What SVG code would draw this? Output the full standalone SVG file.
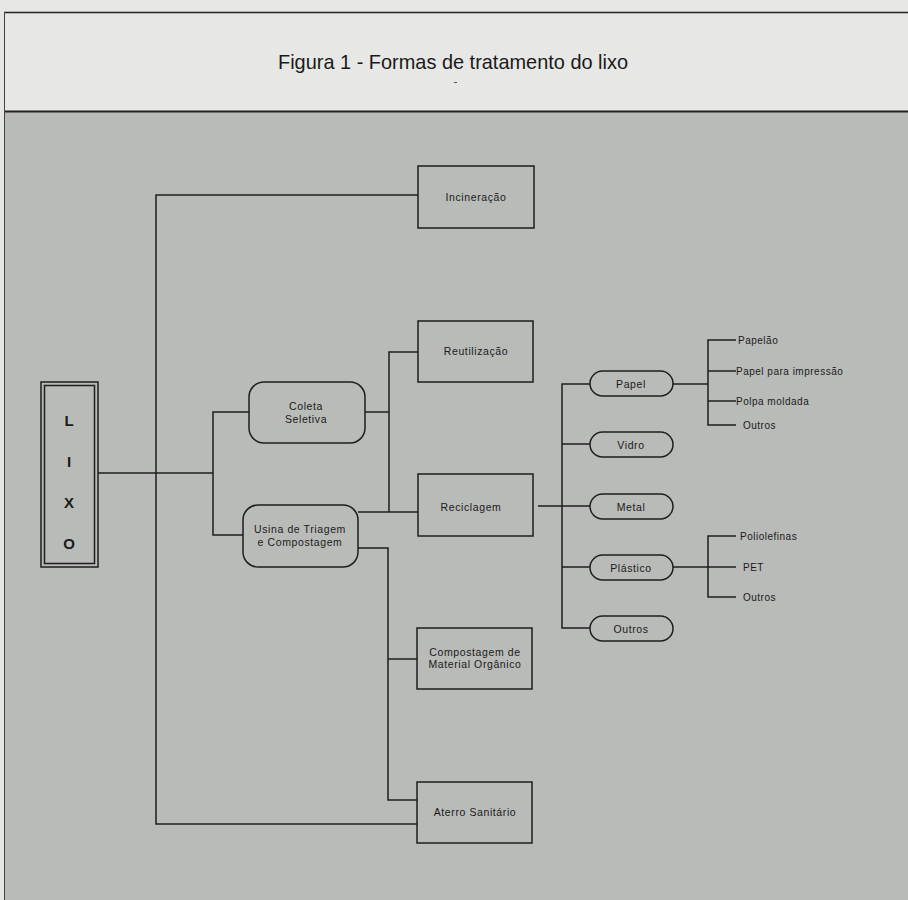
<svg xmlns="http://www.w3.org/2000/svg" width="908" height="900" viewBox="0 0 908 900">
<style>
.ln{fill:none;stroke:#1e1e1e;stroke-width:1.5}
.box{fill:#b9bbb8;stroke:#1e1e1e;stroke-width:1.5}
.t{font-family:"Liberation Sans",Arial,sans-serif;font-size:10.5px;letter-spacing:0.6px;fill:#1a1a1a;text-anchor:middle}
.s{font-family:"Liberation Sans",Arial,sans-serif;font-size:10px;letter-spacing:0.5px;fill:#1a1a1a}
.big{font-family:"Liberation Sans",Arial,sans-serif;font-size:15px;font-weight:bold;fill:#1a1a1a;text-anchor:middle}
</style>
<rect x="0" y="0" width="908" height="900" fill="#e6e6e3"/>
<rect x="4" y="112" width="904" height="788" fill="#b9bbb8"/>
<rect x="4" y="12" width="904" height="100" fill="#e7e7e5"/>
<line x1="4" y1="12.5" x2="908" y2="12.5" stroke="#222" stroke-width="1.5"/>
<line x1="4" y1="111.5" x2="908" y2="111.5" stroke="#222" stroke-width="2"/>
<line x1="4.5" y1="12" x2="4.5" y2="900" stroke="#444" stroke-width="1"/>
<text x="453" y="69" font-family="'Liberation Sans',Arial,sans-serif" font-size="21" fill="#1a1a1a" text-anchor="middle" textLength="350" lengthAdjust="spacingAndGlyphs">Figura 1 - Formas de tratamento do lixo</text>
<line x1="454" y1="82.5" x2="457" y2="82.5" stroke="#555" stroke-width="1"/>

<g id="connectors" class="ln">
<polyline points="98,473 213,473"/>
<polyline points="418,195 156,195 156,824 418,824"/>
<polyline points="249,412 213,412 213,535 243,535"/>
<polyline points="365,412 389,412"/>
<polyline points="418,352 389,352 389,512"/>
<polyline points="358,512 418,512"/>
<polyline points="358,548 388,548 388,800 418,800"/>
<polyline points="388,659 418,659"/>
<polyline points="538,506 562,506"/>
<polyline points="590,384 562,384 562,628 590,628"/>
<polyline points="562,444 590,444"/>
<polyline points="562,506 590,506"/>
<polyline points="562,567 590,567"/>
<polyline points="673,384 708,384"/>
<polyline points="736,340 708,340 708,425 736,425"/>
<polyline points="708,371 736,371"/>
<polyline points="708,401 736,401"/>
<polyline points="673,567 708,567"/>
<polyline points="736,536 708,536 708,597 736,597"/>
<polyline points="708,567 736,567"/>
</g>

<g id="lixo">
<rect class="box" x="41" y="382" width="57" height="185"/>
<rect class="ln" x="44.5" y="385.5" width="50" height="178"/>
<text class="big" x="69" y="426">L</text>
<text class="big" x="69" y="467">I</text>
<text class="big" x="69" y="508">X</text>
<text class="big" x="69" y="549">O</text>
</g>
<g id="incineracao">
<rect class="box" x="418" y="166" width="116" height="62"/>
<text class="t" x="476" y="201">Incineração</text>
</g>
<g id="coleta">
<rect class="box" x="249" y="382" width="116" height="61" rx="15"/>
<text class="t" x="306" y="410">Coleta</text>
<text class="t" x="306" y="423">Seletiva</text>
</g>
<g id="usina">
<rect class="box" x="243" y="505" width="115" height="62" rx="15"/>
<text class="t" x="300" y="533">Usina de Triagem</text>
<text class="t" x="300" y="546">e Compostagem</text>
</g>
<g id="reutilizacao">
<rect class="box" x="418" y="321" width="115" height="61"/>
<text class="t" x="476" y="355">Reutilização</text>
</g>
<g id="reciclagem">
<rect class="box" x="418" y="474" width="115" height="62"/>
<text class="t" x="471" y="511">Reciclagem</text>
</g>
<g id="compostagem">
<rect class="box" x="417" y="628" width="115" height="61"/>
<text class="t" x="475" y="656">Compostagem de</text>
<text class="t" x="475" y="668">Material Orgânico</text>
</g>
<g id="aterro">
<rect class="box" x="417" y="782" width="115" height="61"/>
<text class="t" x="475" y="816">Aterro Sanitário</text>
</g>
<g id="papel">
<rect class="box" x="590" y="371" width="83" height="25" rx="12.5"/>
<text class="t" x="631" y="387.5">Papel</text>
</g>
<g id="vidro">
<rect class="box" x="590" y="432" width="83" height="25" rx="12.5"/>
<text class="t" x="631" y="448.5">Vidro</text>
</g>
<g id="metal">
<rect class="box" x="590" y="494" width="83" height="25" rx="12.5"/>
<text class="t" x="631" y="510.5">Metal</text>
</g>
<g id="plastico">
<rect class="box" x="590" y="555" width="83" height="25" rx="12.5"/>
<text class="t" x="631" y="571.5">Plástico</text>
</g>
<g id="outros">
<rect class="box" x="590" y="616" width="83" height="25" rx="12.5"/>
<text class="t" x="631" y="632.5">Outros</text>
</g>
<g id="papel-sub">
<text class="s" x="738" y="343.5">Papelão</text>
<text class="s" x="736" y="374.5">Papel para impressão</text>
<text class="s" x="736" y="404.5">Polpa moldada</text>
<text class="s" x="743" y="428.5">Outros</text>
</g>
<g id="plastico-sub">
<text class="s" x="740" y="539.5">Poliolefinas</text>
<text class="s" x="743" y="570.5">PET</text>
<text class="s" x="743" y="600.5">Outros</text>
</g>
</svg>
